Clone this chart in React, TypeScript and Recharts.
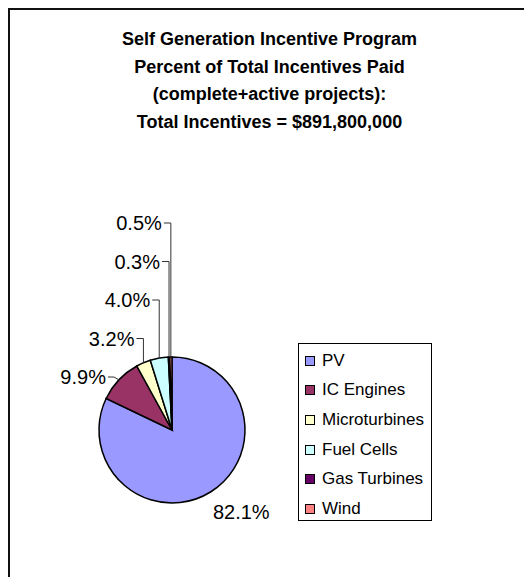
import { Cell, Legend, Pie, PieChart } from "recharts";

const categories = ["PV", "IC Engines", "Microturbines", "Fuel Cells", "Gas Turbines", "Wind"];
const percents = [82.1, 9.9, 3.2, 4.0, 0.3, 0.5];
const colors = ["#9999ff", "#993366", "#ffffcc", "#ccffff", "#660066", "#ff8080"];
const titleLines = [
    "Self Generation Incentive Program",
    "Percent of Total Incentives Paid",
    "(complete+active projects):",
    "Total Incentives = $891,800,000",
];

const data = categories.map((name, i) => ({ name, value: percents[i] }));

const FONT = "'Liberation Sans', Arial, sans-serif";
const RADIAN = Math.PI / 180;

// Excel-style labels: big slice labelled beside it, small slices stacked above with elbow leaders
function renderLabel(props: any) {
    const { cx, cy, midAngle, outerRadius, index, value } = props;
    const ex = cx + outerRadius * Math.cos(-midAngle * RADIAN);
    const ey = cy + outerRadius * Math.sin(-midAngle * RADIAN);
    const text = `${Number(value).toFixed(1)}%`;

    if (index === 0) {
        return (
            <text x={ex + 2} y={ey + 20} fontFamily={FONT} fontSize={20} fill="#000" dominantBaseline="central">
                {text}
            </text>
        );
    }

    const ly = cy - 53 - 38.5 * (index - 1);
    const elbow = index === 1 ? 6 : 7;
    const kneeX = index === 1 ? ex - 5 : ex;
    return (
        <g>
            <polyline
                points={`${ex},${ey} ${kneeX},${ly} ${kneeX - elbow},${ly}`}
                fill="none"
                stroke="#333"
                strokeWidth={1}
            />
            <text
                x={kneeX - elbow - 2}
                y={ly}
                textAnchor="end"
                fontFamily={FONT}
                fontSize={20}
                fill="#000"
                dominantBaseline="central"
            >
                {text}
            </text>
        </g>
    );
}

function LegendBox() {
    return (
        <div
            style={{
                width: 134,
                height: 178,
                boxSizing: "border-box",
                border: "1px solid #000",
                background: "#fff",
                fontFamily: FONT,
                fontSize: 17,
                color: "#000",
                paddingTop: 2,
            }}
        >
            {categories.map((name, i) => (
                <div key={name} style={{ height: 29.6, display: "flex", alignItems: "center", paddingLeft: 6 }}>
                    <span
                        style={{
                            width: 10,
                            height: 10,
                            boxSizing: "border-box",
                            border: "1px solid #000",
                            background: colors[i],
                            marginRight: 7,
                            flexShrink: 0,
                        }}
                    />
                    <span>{name}</span>
                </div>
            ))}
        </div>
    );
}

export default function App() {
    // root sits at the body's 8px margin; inner layer uses page coordinates
    return (
        <div style={{ position: "relative", width: 516, height: 569, background: "#fff" }}>
            <div style={{ position: "absolute", left: -8, top: -8, width: 532, height: 577 }}>
                <div style={{ position: "absolute", left: 0, top: 0 }}>
                    <PieChart width={532} height={577} margin={{ top: 0, right: 0, bottom: 0, left: 0 }}>
                        <Pie
                            data={data}
                            dataKey="value"
                            nameKey="name"
                            cx={172}
                            cy={430}
                            outerRadius={73}
                            startAngle={90}
                            endAngle={-270}
                            stroke="#000"
                            strokeWidth={1.5}
                            label={renderLabel}
                            labelLine={false}
                            isAnimationActive={false}
                        >
                            {data.map((_, i) => (
                                <Cell key={`slice-${i}`} fill={colors[i]} />
                            ))}
                        </Pie>
                        <Legend
                            layout="vertical"
                            align="center"
                            verticalAlign="middle"
                            content={() => <LegendBox />}
                            wrapperStyle={{ left: 298, top: 343, width: 134, height: 178 }}
                        />
                    </PieChart>
                </div>
                <div
                    style={{
                        position: "absolute",
                        left: 7,
                        width: 525,
                        top: 26,
                        textAlign: "center",
                        fontFamily: FONT,
                        fontWeight: "bold",
                        fontSize: 18,
                        lineHeight: "27.5px",
                        color: "#000",
                        zIndex: 2,
                    }}
                >
                    {titleLines.map((line) => (
                        <div key={line}>{line}</div>
                    ))}
                </div>
                <svg
                    width={532}
                    height={577}
                    style={{ position: "absolute", left: 0, top: 0, zIndex: 3, pointerEvents: "none" }}
                >
                    <path d="M9,577 L9,9 L532,9" fill="none" stroke="#111" strokeWidth={2} />
                </svg>
            </div>
        </div>
    );
}
